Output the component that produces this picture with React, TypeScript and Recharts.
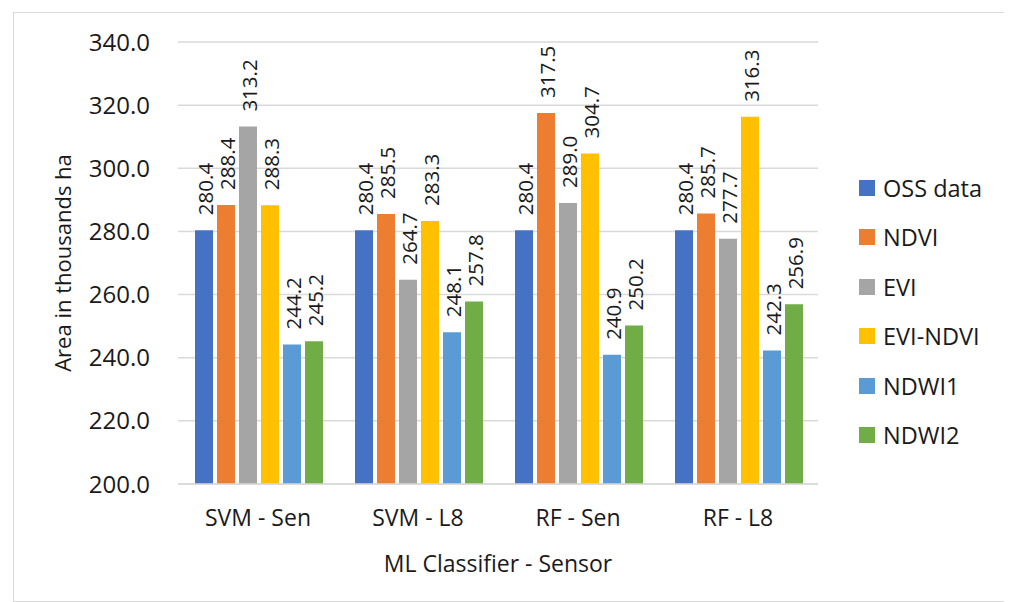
import React from 'react';
import { BarChart, Bar, XAxis, YAxis, CartesianGrid, Legend, LabelList, Label } from 'recharts';

const categories = ['SVM - Sen', 'SVM - L8', 'RF - Sen', 'RF - L8'];
const ossData = [280.4, 280.4, 280.4, 280.4];
const ndvi = [288.4, 285.5, 317.5, 285.7];
const evi = [313.2, 264.7, 289.0, 277.7];
const eviNdvi = [288.3, 283.3, 304.7, 316.3];
const ndwi1 = [244.2, 248.1, 240.9, 242.3];
const ndwi2 = [245.2, 257.8, 250.2, 256.9];
const yTicks = [200, 220, 240, 260, 280, 300, 320, 340];

const SERIES = [
  { key: 'oss', name: 'OSS data', values: ossData, color: '#4472C4' },
  { key: 'ndvi', name: 'NDVI', values: ndvi, color: '#ED7D31' },
  { key: 'evi', name: 'EVI', values: evi, color: '#A5A5A5' },
  { key: 'eviNdvi', name: 'EVI-NDVI', values: eviNdvi, color: '#FFC000' },
  { key: 'ndwi1', name: 'NDWI1', values: ndwi1, color: '#5B9BD5' },
  { key: 'ndwi2', name: 'NDWI2', values: ndwi2, color: '#70AD47' },
];

const data = categories.map((cat, i) => {
  const row: Record<string, string | number> = { cat };
  SERIES.forEach((s) => {
    row[s.key] = s.values[i];
  });
  return row;
});

const FONT = '"Open Sans", sans-serif';
const TEXT = '#1a1a1a';

const BarValue = (props: any) => {
  const { x, y, width, value } = props;
  return (
    <text
      transform={`translate(${x + width / 2 + 1}, ${y - 15}) rotate(-90)`}
      textAnchor="start"
      dominantBaseline="central"
      fontSize={20.5}
      fill={TEXT}
      fontFamily={FONT}
    >
      {Number(value).toFixed(1)}
    </text>
  );
};

const LegendList = () => (
  <div style={{ fontFamily: FONT }}>
    {SERIES.map((s) => (
      <div key={s.key} style={{ height: 49.5, display: 'flex', alignItems: 'center' }}>
        <span style={{ width: 16, height: 16, background: s.color, display: 'inline-block', marginRight: 8 }} />
        <span style={{ fontSize: 23.5, color: TEXT }}>{s.name}</span>
      </div>
    ))}
  </div>
);

export default function App() {
  return (
    <div
      style={{
        marginLeft: 5,
        marginTop: 4,
        width: 990,
        height: 588,
        border: '1px solid #d9d9d9',
        background: '#fff',
        fontFamily: FONT,
      }}
    >
      <BarChart
        width={990}
        height={588}
        data={data}
        margin={{ top: 29, right: 36, bottom: 0, left: 0 }}
        barCategoryGap={17}
        barGap={4}
        style={{ fontFamily: FONT }}
      >
        <CartesianGrid vertical={false} stroke="#d9d9d9" strokeWidth={1.5} />
        <XAxis
          dataKey="cat"
          height={117}
          axisLine={{ stroke: '#d9d9d9', strokeWidth: 1.5 }}
          tickLine={false}
          tickSize={0}
          tickMargin={26}
          tick={{ fontSize: 23, fill: TEXT, fontFamily: FONT }}
        >
          <Label
            content={(p: any) => {
              const vb = p.viewBox;
              return (
                <text
                  x={vb.x + vb.width / 2}
                  y={vb.y + 79}
                  textAnchor="middle"
                  dominantBaseline="central"
                  fontSize={23}
                  fill={TEXT}
                  fontFamily={FONT}
                >
                  ML Classifier - Sensor
                </text>
              );
            }}
          />
        </XAxis>
        <YAxis
          width={164}
          domain={[200, 340]}
          ticks={yTicks}
          interval={0}
          axisLine={false}
          tickLine={false}
          tickSize={0}
          tickMargin={28}
          tickFormatter={(v: number) => v.toFixed(1)}
          tick={{ fontSize: 24, fill: TEXT, fontFamily: FONT }}
        >
          <Label
            content={(p: any) => {
              const vb = p.viewBox;
              const cx = 48;
              const cy = vb.y + vb.height / 2;
              return (
                <text
                  transform={`translate(${cx}, ${cy}) rotate(-90)`}
                  textAnchor="middle"
                  dominantBaseline="central"
                  fontSize={22}
                  fill={TEXT}
                  fontFamily={FONT}
                >
                  Area in thousands ha
                </text>
              );
            }}
          />
        </YAxis>
        <Legend
          layout="vertical"
          align="right"
          verticalAlign="middle"
          content={<LegendList />}
          wrapperStyle={{ left: 845, top: 150, width: 150 }}
        />
        {SERIES.map((s) => (
          <Bar key={s.key} dataKey={s.key} name={s.name} fill={s.color} isAnimationActive={false}>
            <LabelList dataKey={s.key} content={<BarValue />} />
          </Bar>
        ))}
      </BarChart>
    </div>
  );
}
